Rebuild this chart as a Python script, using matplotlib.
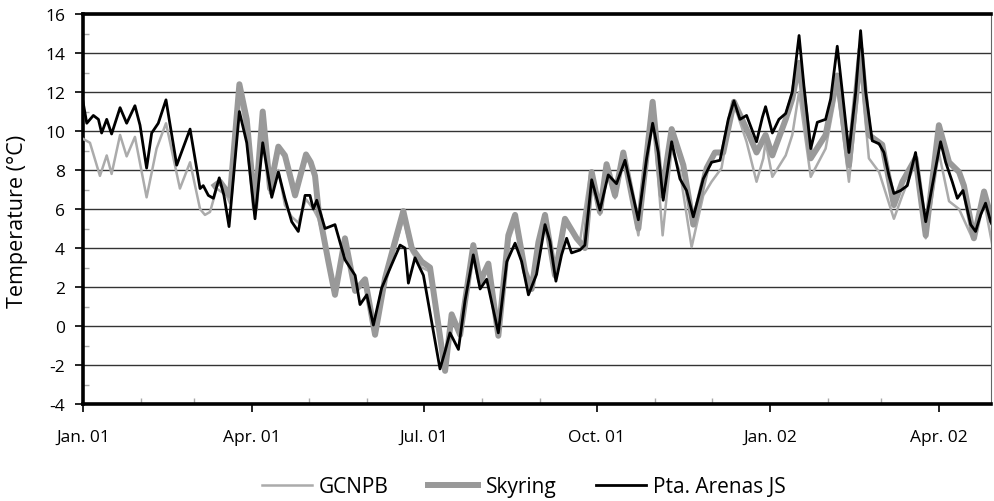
import numpy as np
import matplotlib
matplotlib.use("Agg")
import matplotlib.pyplot as plt
from matplotlib.ticker import FixedLocator, MultipleLocator

plt.rcParams['font.family'] = ['Open Sans', 'DejaVu Sans']
plt.rcParams['axes.unicode_minus'] = False

# days since 1 Jan 2001, temperatures in degC
arenas_days = [0, 2, 5.5, 8.2, 9.9, 12.6, 15.2, 19.7, 23.2, 27.6, 30.3, 33.8, 36.5, 40, 44.1,
               49.8, 56.9, 62.2, 63.9, 66.6, 69.3, 72.4, 74.9, 77.6, 83.1, 87.0, 91.4, 95.5,
               100.3, 103.8, 107.3, 110.9, 114.4, 118.0, 120.6, 122.4, 124.2, 128.6, 133.9,
               139.2, 144.6, 147.2, 150.8, 154.3, 158.7, 164.0, 168.5, 171.1, 172.9, 176.4,
               180.9, 186.2, 189.7, 192.4, 195.0, 199.5, 203.0, 207.4, 211.0, 214.5, 220.7,
               225.2, 229.6, 233.1, 236.7, 241.0, 245.5, 248.1, 251.3, 254.3, 257.0, 259.6,
               264.1, 266.7, 270.3, 274.7, 279.1, 283.5, 288.0, 295.1, 299.5, 302.7, 305.7,
               308.3, 312.8, 317.2, 320.7, 324.3, 329.6, 334.0, 338.5, 342.9, 345.9, 349.1,
               352.6, 357.9, 361.0, 362.7, 366.3, 369.8, 373.4, 376.9, 380.5, 383.1, 386.7,
               390.2, 394.6, 397.3, 400.8, 403.5, 407.0, 410.6, 413.2, 415.9, 419.4, 423.0,
               425.6, 428.3, 430.9, 434.5, 438.0, 442.4, 445.1, 447.8, 451.3, 455.7, 458.4,
               461.9, 464.6, 467.6, 471.7, 474.3, 477.0, 479.6, 482.3, 483.2]
arenas_temp = [11.5, 10.4, 10.8, 10.6, 9.9, 10.6, 9.85, 11.2, 10.4, 11.3, 10.3, 8.1, 9.9, 10.4, 11.6,
               8.25, 10.1, 7.05, 7.2, 6.7, 6.55, 7.6, 6.7, 5.1, 11.0, 9.4, 5.5, 9.4,
               6.6, 7.9, 6.55, 5.35, 4.85, 6.7, 6.7, 6.0, 6.45, 5.0, 5.2,
               3.4, 2.6, 1.1, 1.6, 0.05, 1.95, 3.15, 4.15, 4.0, 2.2, 3.5,
               2.6, -0.3, -2.2, -1.3, -0.35, -1.2, 1.3, 3.65, 1.9, 2.4, -0.35,
               3.3, 4.25, 3.3, 1.6, 2.65, 5.2, 4.35, 2.3, 3.65, 4.5, 3.75,
               3.9, 4.15, 7.5, 5.95, 7.75, 7.3, 8.5, 5.45, 8.6, 10.4, 8.9,
               6.45, 9.45, 7.55, 6.95, 5.6, 7.55, 8.4, 8.5, 10.6, 11.55, 10.6,
               10.8, 9.45, 10.7, 11.25, 9.9, 10.6, 10.9, 12.0, 14.9, 12.3, 9.1,
               10.45, 10.6, 11.65, 14.35, 12.0, 8.9, 12.0, 15.15, 12.0, 9.5, 9.35,
               8.9, 7.7, 6.8, 6.95, 7.2, 8.9, 7.05, 5.35, 7.2, 9.45, 8.4,
               7.4, 6.55, 6.95, 5.2, 4.85, 5.7, 6.3, 5.35, 5.2]

skyring_days = [70, 72.8, 78.1, 83.1, 87.0, 91.4, 95.5, 99.4, 103.8, 107.3, 112.7, 118.5, 121,
                123.3, 125.1, 130.4, 133.9, 139.2, 144.6, 149.9, 155.2, 160.5, 165.8, 170.2,
                174.7, 180.0, 184.4, 188.0, 192.4, 195.9, 200.4, 207.4, 211.0, 215.4, 220.7,
                226.0, 229.6, 234.9, 238.4, 242.0, 245.5, 250.8, 256.1, 262.3, 266.7, 270.3,
                274.7, 278.2, 282.7, 287.1, 295.1, 302.7, 307.5, 312.8, 319.0, 324.3, 331.4,
                335.8, 340.2, 345.9, 352.6, 357.9, 362.7, 366.3, 373.4, 376.9, 380.5, 386.7,
                394.6, 400.8, 407.0, 413.2, 417.6, 424.7, 430.9, 435.4, 442.4, 447.8, 454.8,
                460.2, 465.5, 468.1, 473.4, 478.8, 483.2]
skyring_temp = [7.2, 7.4, 6.7, 12.4, 10.6, 6.0, 11.0, 7.05, 9.2, 8.75, 6.7, 8.8, 8.4,
                7.7, 6.0, 3.3, 1.6, 4.5, 1.8, 2.4, -0.45, 2.45, 4.35, 5.9,
                4.0, 3.3, 3.0, 0.6, -2.3, 0.6, -0.45, 4.15, 2.3, 3.2, -0.5,
                4.65, 5.7, 2.8, 1.9, 4.3, 5.7, 2.6, 5.5, 4.5, 4.0, 7.9,
                5.85, 8.3, 6.7, 8.9, 5.0, 11.5, 6.7, 10.1, 8.25, 5.2, 8.1,
                8.9, 8.9, 11.5, 10.1, 8.9, 9.8, 8.75, 10.6, 11.65, 13.5, 8.6,
                9.8, 12.85, 8.25, 14.2, 9.8, 9.3, 6.2, 7.4, 8.6, 4.65, 10.3,
                8.4, 7.9, 7.2, 4.5, 6.9, 5.35]

gcnpb_days = [0, 3.7, 9.0, 12.6, 15.2, 19.7, 23.2, 27.6, 33.8, 39.1, 44.1, 51.5, 56.9, 62.2,
              64.8, 67.5, 71.0, 76.3, 78.1, 83.1, 87.0, 91.4, 95.5, 99.4, 103.8, 107.3, 110.9,
              114.4, 118.5, 122.4, 125.1, 130.4, 133.9, 139.2, 144.6, 149.9, 155.2, 160.5,
              165.8, 170.2, 174.7, 180.0, 184.4, 188.0, 192.4, 195.9, 200.4, 203.0, 207.4,
              211.0, 215.4, 220.7, 226.0, 229.6, 234.9, 237.5, 245.5, 250.8, 256.1, 264.1,
              269.4, 274.7, 278.2, 282.7, 287.1, 295.1, 302.7, 308.0, 312.8, 317.2, 323.4,
              329.6, 334.0, 339.3, 343.8, 345.9, 352.6, 357.9, 361.5, 362.7, 366.3, 373.4,
              376.9, 380.5, 386.7, 394.6, 400.8, 407.0, 413.2, 417.6, 423.0, 430.9, 435.4,
              442.4, 447.8, 454.8, 460.2, 465.5, 472.6, 478.8, 483.2]
gcnpb_temp = [9.6, 9.4, 7.7, 8.75, 7.8, 9.8, 8.7, 9.7, 6.6, 9.1, 10.4, 7.05, 8.4, 6.0,
              5.7, 5.85, 7.05, 6.7, 6.3, 12.0, 9.8, 5.7, 10.4, 6.8, 8.0, 6.2, 5.6,
              5.3, 6.5, 6.0, 5.5, 3.5, 1.8, 4.2, 2.0, 2.2, -0.3, 2.3,
              4.0, 5.5, 3.8, 3.0, 2.8, 0.5, -2.2, 0.4, -0.5, 1.2, 4.0,
              2.0, 3.0, -0.4, 4.3, 5.3, 2.6, 2.0, 5.5, 2.45, 5.2, 4.35,
              7.75, 5.7, 8.1, 6.55, 8.75, 4.65, 11.15, 4.65, 9.1, 7.9, 4.05,
              6.7, 7.4, 8.1, 10.6, 11.4, 9.45, 7.4, 8.6, 9.45, 7.65, 8.75,
              9.8, 12.0, 7.65, 9.1, 12.3, 7.4, 13.2, 8.6, 7.9, 5.5, 6.7,
              8.4, 4.5, 8.9, 6.4, 6.0, 4.5, 6.4, 4.15]

major_days = [0, 90, 181, 273, 365, 455]
major_labels = ['Jan. 01', 'Apr. 01', 'Jul. 01', 'Oct. 01', 'Jan. 02', 'Apr. 02']
month_days = [31, 59, 120, 151, 212, 243, 304, 334, 396, 424]

fig = plt.figure(figsize=(9.94, 5.02), dpi=100)
ax = fig.add_axes([0.0835, 0.1932, 0.9135, 0.7768])

ax.plot(gcnpb_days, gcnpb_temp, color='#ababab', lw=1.8, label='GCNPB', zorder=3)
ax.plot(skyring_days, skyring_temp, color='#999999', lw=4.3, label='Skyring', zorder=4)
ax.plot(arenas_days, arenas_temp, color='black', lw=2.0, label='Pta. Arenas JS', zorder=5)

ax.set_xlim(0, 482.5)
ax.set_ylim(-4, 16)
ax.yaxis.set_major_locator(MultipleLocator(2))
ax.yaxis.set_minor_locator(MultipleLocator(1))
ax.grid(axis='y', which='major', color='#333333', lw=1.0, zorder=1)

ax.set_xticks(major_days)
ax.set_xticklabels(major_labels)
ax.xaxis.set_minor_locator(FixedLocator(month_days))

ax.tick_params(axis='both', which='major', labelsize=12.5, direction='out', length=6, width=1.2)
ax.tick_params(axis='x', which='major', pad=12)
ax.tick_params(axis='y', which='major', pad=7)
ax.tick_params(axis='both', which='minor', direction='in', length=4, width=1, color='#aaaaaa')

for s in ['left', 'bottom', 'top']:
    ax.spines[s].set_linewidth(2.6)
ax.spines['right'].set_linewidth(0.8)
ax.spines['right'].set_color('#666666')

ax.set_ylabel('Temperature (°C)', fontsize=15.5)
ax.yaxis.set_label_coords(-0.061, 0.47)

fig.legend(loc='center', bbox_to_anchor=(0.527, 0.028), ncol=3, frameon=False,
           fontsize=15, handlelength=2.4, columnspacing=1.9, handletextpad=0.35)

fig.savefig('out.png', dpi=100)
